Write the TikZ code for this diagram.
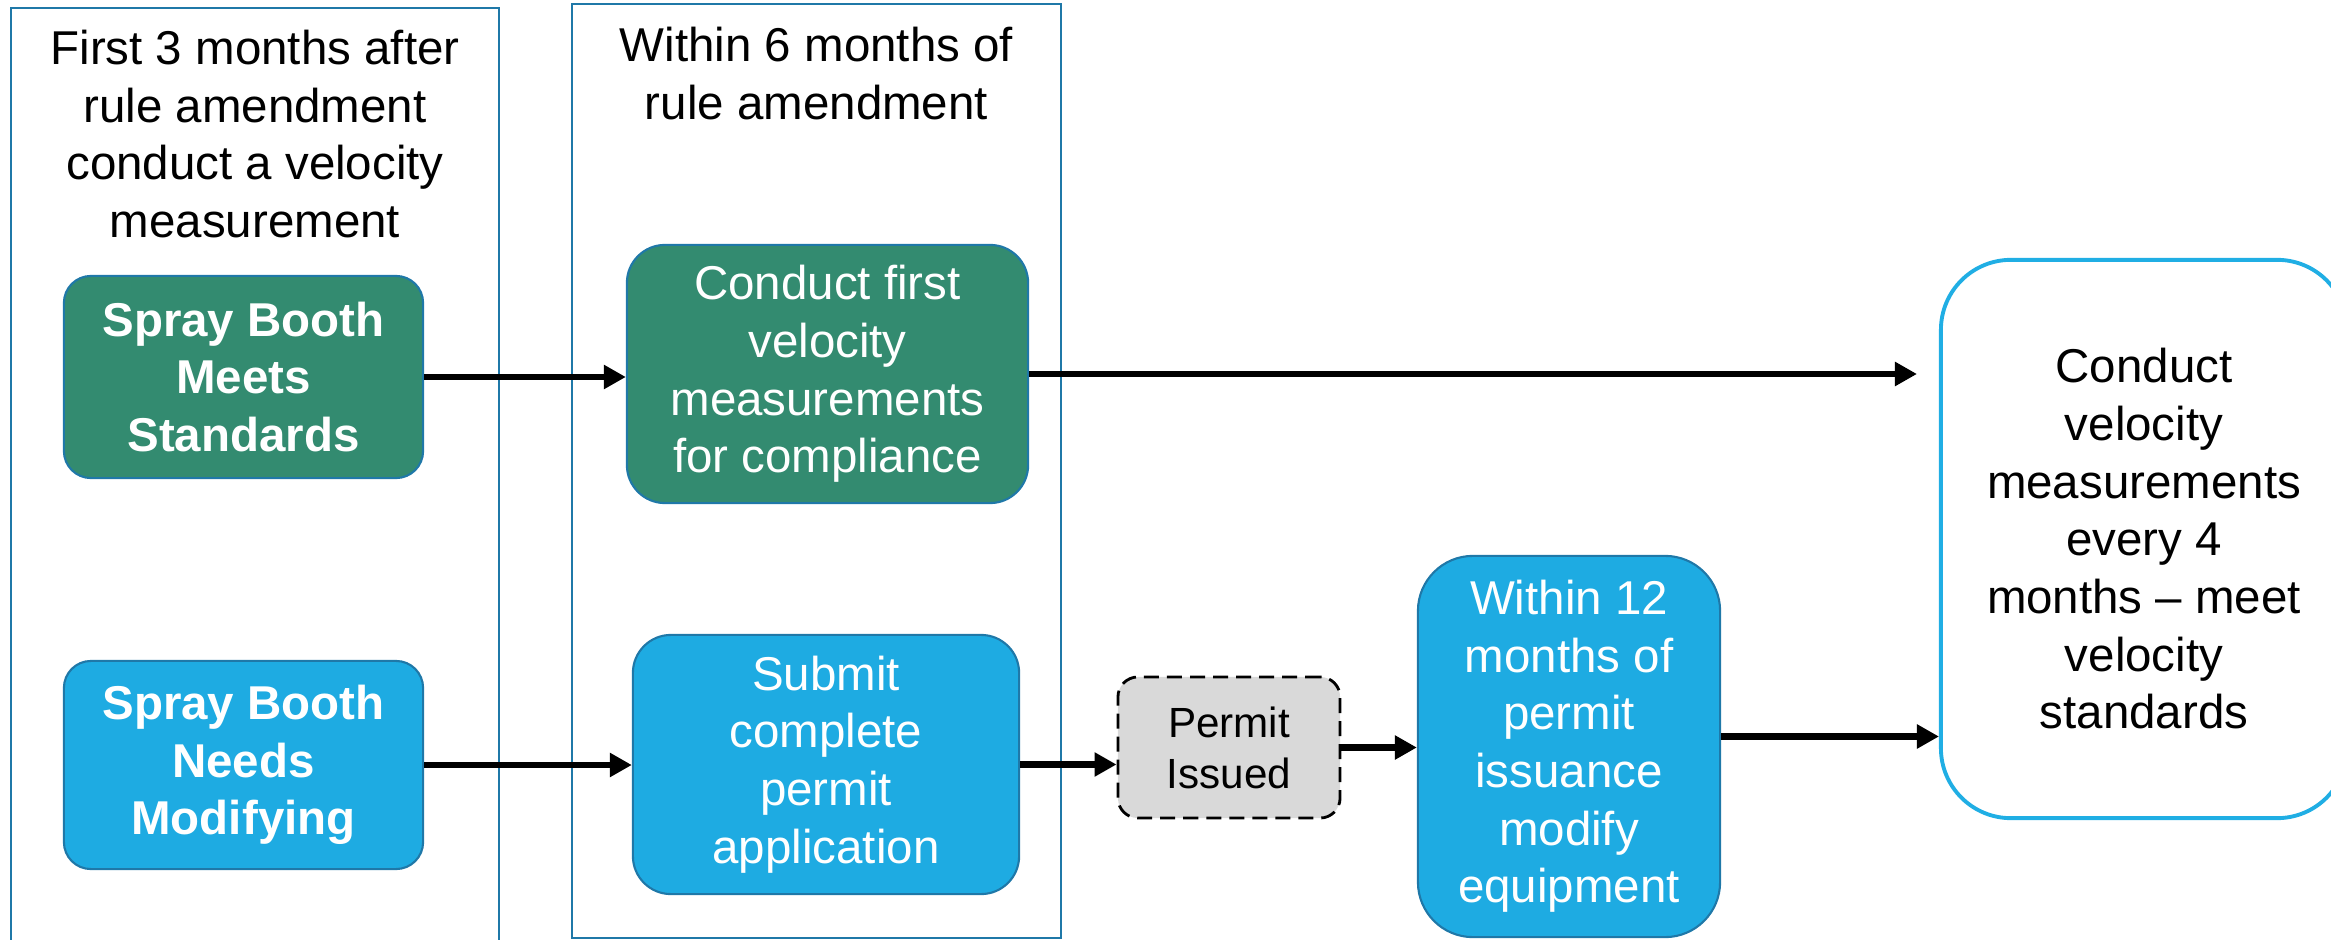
\documentclass[tikz,border=0pt]{standalone}
\usepackage{fontspec}
\setmainfont{Liberation Sans}
\usetikzlibrary{arrows.meta}

\definecolor{boothgreen}{RGB}{51,139,112}
\definecolor{boothblue}{RGB}{30,171,226}
\definecolor{edgeblue}{RGB}{31,120,168}
\definecolor{lightedge}{RGB}{32,174,228}
\definecolor{permitgray}{RGB}{217,217,217}

\begin{document}
\begin{tikzpicture}[x=0.01cm,y=-0.01cm,>={Triangle[length=0.22cm,width=0.23cm]},
    box/.style={rectangle,align=center,draw=edgeblue,line width=0.6pt,text=white,font=\fontsize{13.5}{16.4}\selectfont},
    green node/.style={box,fill=boothgreen},
    blue node/.style={box,fill=boothblue},
    panel/.style={draw=edgeblue,line width=0.6pt}]

                \useasboundingbox (0,0) rectangle (2331,940);
                \clip (0,0) rectangle (2331,940);

                % time frames
                \draw[panel] (11,945) -- (11,8) -- (499,8) -- (499,945);
                \draw[panel] (572,4) rectangle (1061,938);
                \node[align=center, font=\fontsize{13.5}{16.4}\selectfont] (hdr3) at (255,134) {First 3 months after\\rule amendment\\conduct a velocity\\measurement};
                \node[align=center, font=\fontsize{13.5}{16.4}\selectfont] (hdr6) at (816.5,73.5) {Within 6 months of\\rule amendment};

                \node[green node, minimum width=3.59cm, minimum height=2.02cm, rounded corners=0.27cm, font=\fontsize{13.5}{16.4}\selectfont\bfseries] (meets) at (243.5,377) {Spray Booth\\Meets\\Standards};
                \node[green node, minimum width=4.01cm, minimum height=2.58cm, rounded corners=0.38cm] (first) at (827.5,374) {Conduct first\\velocity\\measurements\\for compliance};

                \node[blue node, minimum width=3.59cm, minimum height=2.08cm, rounded corners=0.27cm, font=\fontsize{13.5}{16.4}\selectfont\bfseries] (modify) at (243.5,765) {Spray Booth\\Needs\\Modifying};
                \node[blue node, minimum width=3.86cm, minimum height=2.59cm, rounded corners=0.38cm] (submit) at (826,764.5) {Submit\\complete\\permit\\application};
                \node[rectangle, align=center, fill=permitgray, draw=black, line width=0.8pt, dash pattern=on 0.15cm off 0.08cm, minimum width=2.22cm, minimum height=1.41cm, rounded corners=0.2cm, font=\fontsize{12}{14.5}\selectfont] (permit) at (1229,747.5) {Permit\\Issued};
                \node[blue node, minimum width=3.02cm, minimum height=3.81cm, rounded corners=0.55cm] (within) at (1569,746.5) {Within 12\\months of\\permit\\issuance\\modify\\equipment};

                \node[box, draw=lightedge, line width=1.1pt, fill=white, text=black, minimum width=4.06cm, minimum height=5.58cm, rounded corners=0.7cm] (velo) at (2144,539) {Conduct\\velocity\\measurements\\every 4\\months -- meet\\velocity\\standards};

                \path[->, line width=1.85pt]
                    (meets.east) edge (meets.east -| first.west)
                    (first.east) edge[shorten >=0.22cm] (first.east -| velo.west)

                    (modify.east) edge (modify.east -| submit.west)
                    (submit.east) edge (submit.east -| permit.west)
                    (permit.east) edge (permit.east -| within.west)
                    ([yshift=0.1cm]within.east) edge ([yshift=0.1cm]within.east -| velo.west)
                ;
\end{tikzpicture}
\end{document}
